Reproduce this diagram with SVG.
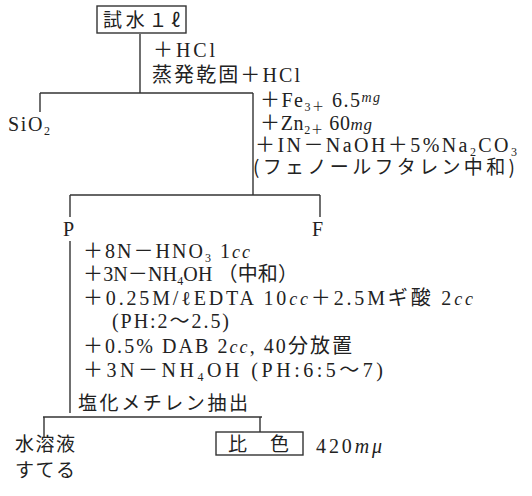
<svg xmlns="http://www.w3.org/2000/svg" width="532" height="496" viewBox="0 0 532 496">
<style>
.t{font-family:"Liberation Serif","Noto Sans CJK JP",serif;font-size:20px;fill:#222}
.j{font-family:"Noto Sans CJK JP","Liberation Serif",sans-serif;font-size:19px;fill:#222}
.s{font-size:12px}
.i{font-style:italic}
.ln{stroke:#333;stroke-width:1.4;fill:none}
</style>
<rect width="532" height="496" fill="#fff"/>
<g id="connectors" class="ln">
<path d="M140 34V93"/>
<path d="M40 93H253"/>
<path d="M40 93V112"/>
<path d="M253 93V195"/>
<path d="M70 195H320"/>
<path d="M70 195V217"/>
<path d="M320 195V217"/>
<path d="M70 241V413"/>
<path d="M43 417H262"/>
<path d="M44 417V438"/>
<path d="M260 417V432"/>
</g>
<g id="n-sample">
<rect class="ln" x="97" y="6" width="89" height="27"/>
<text class="j" x="103" y="27" textLength="77" lengthAdjust="spacing">試水１ℓ</text>
</g>
<g id="n-step1">
<text class="t" x="153" y="57" textLength="62" lengthAdjust="spacing">＋HCl</text>
<text class="t" x="152" y="82" textLength="148" lengthAdjust="spacing">蒸発乾固＋HCl</text>
</g>
<g id="n-sio2">
<text class="t" x="8" y="131" textLength="42" lengthAdjust="spacing">SiO<tspan class="s" baseline-shift="-4">2</tspan></text>
</g>
<g id="n-step2">
<text class="t" x="260" y="107" textLength="120" lengthAdjust="spacing">＋Fe<tspan class="s" baseline-shift="-4">3＋</tspan> 6.5<tspan class="i" font-size="14" baseline-shift="5">mg</tspan></text>
<text class="t" x="260" y="130" textLength="112" lengthAdjust="spacing">＋Zn<tspan class="s" baseline-shift="-4">2＋</tspan> 60<tspan class="i" font-size="17">mg</tspan></text>
<text class="t" x="255" y="152" textLength="262" lengthAdjust="spacing">＋IN－NaOH＋5%Na<tspan class="s" baseline-shift="-4">2</tspan>CO<tspan class="s" baseline-shift="-4">3</tspan></text>
<text class="j" x="253" y="174" textLength="262" lengthAdjust="spacing">(フェノールフタレン中和)</text>
</g>
<g id="n-p">
<text class="t" x="63" y="236">P</text>
</g>
<g id="n-f">
<text class="t" x="312" y="236">F</text>
</g>
<g id="n-step3">
<text class="t" x="83" y="258" textLength="167" lengthAdjust="spacing">＋8N－HNO<tspan class="s" baseline-shift="-4">3</tspan> 1<tspan class="i" font-size="18">cc</tspan></text>
<text class="t" x="83" y="281" textLength="215" lengthAdjust="spacing">＋3N－NH<tspan class="s" baseline-shift="-4">4</tspan>OH （中和）</text>
<text class="t" x="83" y="305" textLength="390" lengthAdjust="spacing">＋0.25M/ℓEDTA 10<tspan class="i" font-size="18">cc</tspan>＋2.5Mギ酸 2<tspan class="i" font-size="18">cc</tspan></text>
<text class="t" x="112" y="328" textLength="117" lengthAdjust="spacing">(PH:2〜2.5)</text>
<text class="t" x="83" y="353" textLength="269" lengthAdjust="spacing">＋0.5% DAB 2<tspan class="i" font-size="18">cc</tspan>, 40分放置</text>
<text class="t" x="83" y="377" textLength="300" lengthAdjust="spacing">＋3N－NH<tspan class="s" baseline-shift="-4">4</tspan>OH   (PH:6:5〜7)</text>
<text class="j" x="78" y="410" textLength="170" lengthAdjust="spacing">塩化メチレン抽出</text>
</g>
<g id="n-water">
<text class="j" x="15" y="451" textLength="60" lengthAdjust="spacing">水溶液</text>
<text class="j" x="15" y="477" textLength="60" lengthAdjust="spacing">すてる</text>
</g>
<g id="n-color">
<rect class="ln" x="216" y="432" width="87" height="23"/>
<text class="j" x="228" y="451" textLength="61" lengthAdjust="spacing">比　色</text>
</g>
<g id="n-wave">
<text class="t" x="316" y="453" textLength="66" lengthAdjust="spacing">420<tspan class="i">mμ</tspan></text>
</g>
</svg>
